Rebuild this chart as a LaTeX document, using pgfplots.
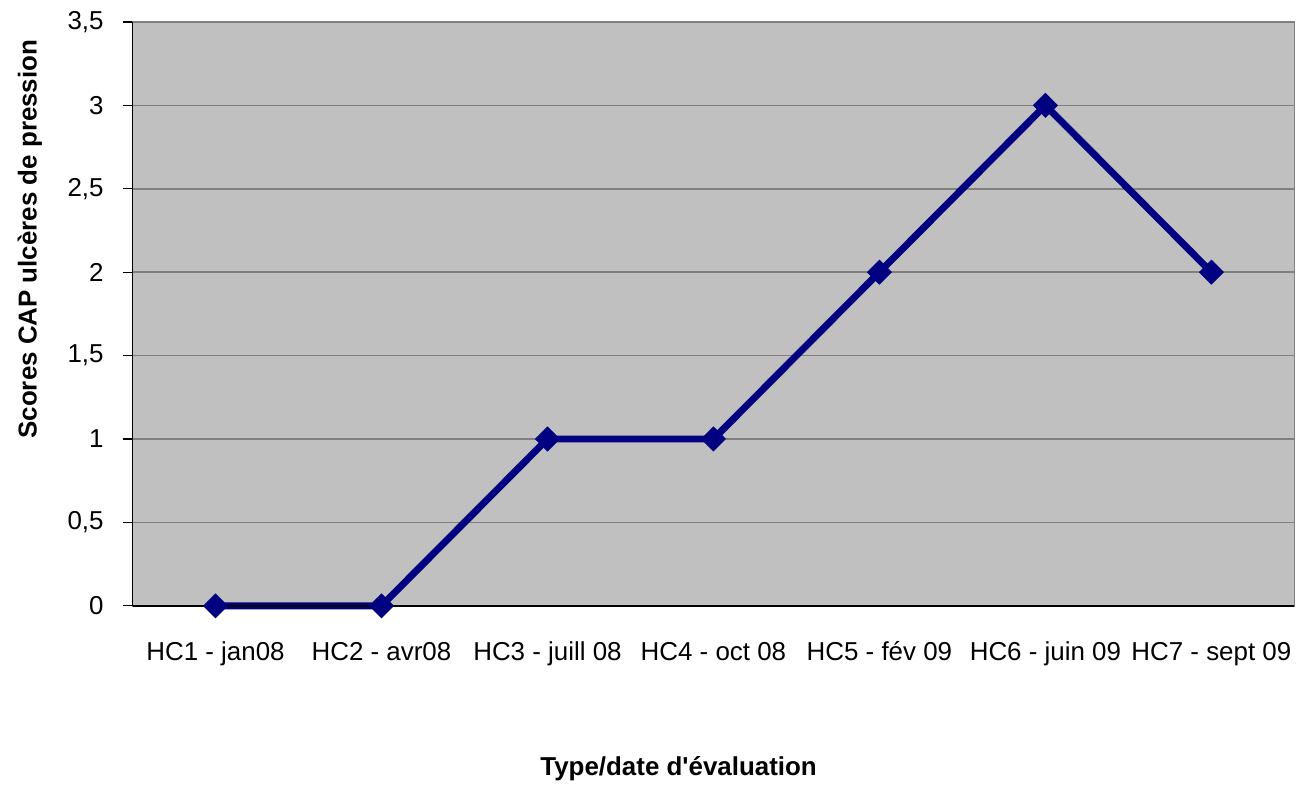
\documentclass[border=0pt]{standalone}
\usepackage{fontspec}
\setmainfont{Liberation Sans}
\usepackage{pgfplots}
\pgfplotsset{compat=1.18}

\definecolor{plotbg}{HTML}{C0C0C0}
\definecolor{navyline}{HTML}{000080}
\definecolor{gridgray}{HTML}{808080}

\begin{document}
\begin{tikzpicture}
  % page frame: 1301 x 787 px at 0.5pt per px
  \path (0pt,0pt) rectangle (650.5pt,393.5pt);
  \begin{axis}[
      at={(66.5pt,89.5pt)}, anchor=south west,
      scale only axis,
      width=583pt, height=293pt,
      xmin=-0.5, xmax=6.5,
      ymin=0, ymax=3.5,
      ytick={0,0.5,...,3.5},
      ytick pos=left,
      xtick pos=bottom,
      xtick={0,...,6},
      xticklabels={HC1 - jan08, HC2 - avr08, HC3 - juill 08, HC4 - oct 08,
                   HC5 - fév 09, HC6 - juin 09, HC7 - sept 09},
      xticklabel style={anchor=base, yshift=-22.5pt},
      major x tick style={draw=none},
      extra x ticks={-0.5,0.5,...,6.5},
      extra x tick labels={},
      extra x tick style={tick style={draw=gridgray, line width=0.6pt}, grid=none},
      tick align=outside,
      major tick length=5pt,
      y tick style={draw=black, line width=0.6pt},
      ymajorgrids,
      major grid style={draw=gridgray, line width=0.8pt},
      axis background/.style={fill=plotbg},
      axis line style={draw=gridgray, line width=0.8pt},
      /pgf/number format/use comma,
      /pgf/number format/assume math mode=true,
      tick label style={font=\fontsize{13}{15}\selectfont},
      yticklabel style={anchor=east, xshift=-6pt},
      clip=false,
    ]
    \addplot[navyline, line width=3.5pt, mark=square*,
             mark options={rotate=45, line width=0.5pt}, mark size=4.2pt]
      coordinates {(0,0) (1,0) (2,1) (3,1) (4,2) (5,3) (6,2)};
    \draw[black, line width=0.8pt] (rel axis cs:0,0) -- (rel axis cs:0,1);
    \draw[black, line width=0.8pt] (rel axis cs:0,0) -- (rel axis cs:1,0);
  \end{axis}
  \node[rotate=90, font=\fontsize{13}{15}\selectfont\bfseries] at (15pt,273.5pt)
    {Scores CAP ulcères de pression};
  \node[font=\fontsize{13}{15}\selectfont\bfseries] at (340.5pt,8pt)
    {Type/date d\textquotesingle évaluation};
\end{tikzpicture}
\end{document}
